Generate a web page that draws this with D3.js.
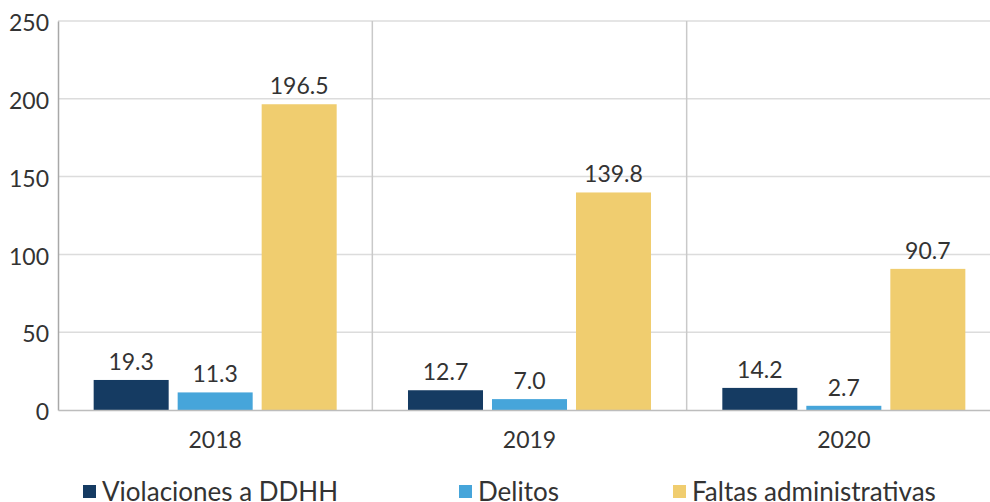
<!DOCTYPE html>
<html>
<head>
<meta charset="utf-8">
<script src="https://cdn.jsdelivr.net/npm/d3@7"></script>
<style>
  body { margin: 0; background: #fff; }
  svg text { font-family: Lato, "Open Sans", sans-serif; fill: #333; }
</style>
</head>
<body>
<script>
// data
var years = ['2018', '2019', '2020'];
var series = ['Violaciones a DDHH', 'Delitos', 'Faltas administrativas'];
var violaciones = [19.3, 12.7, 14.2];
var delitos = [11.3, 7.0, 2.7];
var faltas = [196.5, 139.8, 90.7];
var yTicks = [0, 50, 100, 150, 200, 250];
var colors = ['#153b62', '#46a5da', '#f0cd6f'];

var values = [violaciones, delitos, faltas];

var width = 990;
var height = 502;
var margin = {top: 21, right: -11, bottom: 92, left: 58};

var svg = d3.select('body')
  .append('svg')
    .attr('width', width)
    .attr('height', height);

var y = d3.scaleLinear()
    .domain([0, 250])
    .range([height - margin.bottom, margin.top]);

var x = d3.scaleBand()
    .domain(years)
    .range([margin.left, width - margin.right]);

var xInner = d3.scaleBand()
    .domain(series)
    .range([0, x.bandwidth()])
    .paddingInner(0.107)
    .paddingOuter(0.4245);

// horizontal grid
svg.append('g')
  .selectAll('line')
  .data(yTicks.filter(function(d) { return d > 0; }))
  .join('line')
    .attr('x1', margin.left)
    .attr('x2', width)
    .attr('y1', function(d) { return y(d); })
    .attr('y2', function(d) { return y(d); })
    .attr('stroke', '#dcdcdc')
    .attr('stroke-width', 1.5);

// vertical separators between years
svg.append('g')
  .selectAll('line')
  .data(years.slice(1))
  .join('line')
    .attr('x1', function(d) { return x(d); })
    .attr('x2', function(d) { return x(d); })
    .attr('y1', y(250))
    .attr('y2', y(0))
    .attr('stroke', '#c9c9c9')
    .attr('stroke-width', 1.5);

// bars
var groups = svg.append('g')
  .selectAll('g')
  .data(years)
  .join('g')
    .attr('transform', function(d) { return 'translate(' + x(d) + ',0)'; });

groups.selectAll('rect')
  .data(function(d, i) {
    return series.map(function(s, j) { return {s: s, v: values[j][i], j: j}; });
  })
  .join('rect')
    .attr('x', function(d) { return xInner(d.s); })
    .attr('y', function(d) { return y(d.v); })
    .attr('width', xInner.bandwidth())
    .attr('height', function(d) { return y(0) - y(d.v); })
    .attr('fill', function(d) { return colors[d.j]; });

groups.selectAll('text')
  .data(function(d, i) {
    return series.map(function(s, j) { return {s: s, v: values[j][i]}; });
  })
  .join('text')
    .attr('x', function(d) { return xInner(d.s) + xInner.bandwidth() / 2; })
    .attr('y', function(d) { return y(d.v) - 10; })
    .attr('text-anchor', 'middle')
    .style('font-size', '23px')
    .text(function(d) { return d.v.toFixed(1); });

// axes
var yAxis = d3.axisLeft(y)
  .tickValues(yTicks)
  .tickSize(0)
  .tickPadding(9);

svg.append('g')
  .attr('transform', 'translate(' + margin.left + ',0)')
  .call(yAxis)
  .call(function(g) {
    g.select('.domain').attr('stroke', '#a8a8a8').attr('stroke-width', 1.5);
    g.selectAll('text').style('font-size', '23px').attr('dy', '0.42em');
  });

var xAxis = d3.axisBottom(x)
  .tickSize(0)
  .tickPadding(22);

svg.append('g')
  .attr('transform', 'translate(0,' + y(0) + ')')
  .call(xAxis)
  .call(function(g) {
    g.select('.domain').attr('stroke', '#bdbdbd').attr('stroke-width', 1.5);
    g.selectAll('text').style('font-size', '23px');
  });

// legend (bottom row is clipped by the frame, as in the original)
var legendX = [83, 459, 673];
var legend = svg.append('g')
  .selectAll('g')
  .data(series)
  .join('g')
    .attr('transform', function(d, i) { return 'translate(' + legendX[i] + ',' + 485 + ')'; });

legend.append('rect')
  .attr('width', 13)
  .attr('height', 13)
  .attr('fill', function(d, i) { return colors[i]; });

legend.append('text')
  .attr('x', 19)
  .attr('y', 16)
  .style('font-size', '26px')
  .text(function(d) { return d; });
</script>
</body>
</html>
